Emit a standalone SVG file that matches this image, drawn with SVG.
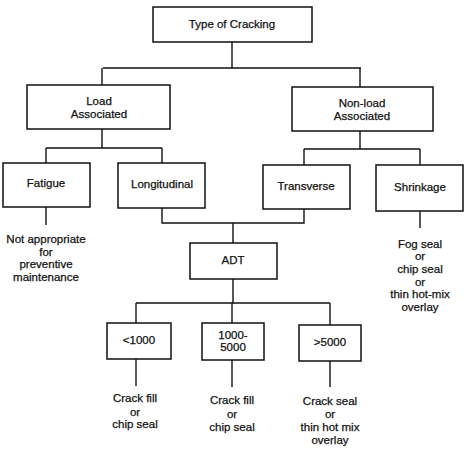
<svg xmlns="http://www.w3.org/2000/svg" width="467" height="453" viewBox="0 0 467 453">
<style>
rect{fill:#fff;stroke:#111;stroke-width:1.5}
.c{fill:none;stroke:#111;stroke-width:1.4}
text{font-family:"Liberation Sans",Arial,sans-serif;font-size:11.5px;fill:#111;stroke:#111;stroke-width:0.25;text-anchor:middle;dominant-baseline:central}
</style>
<rect x="0" y="0" width="467" height="453" style="stroke:none"/>
<g id="connectors">
<path class="c" d="M232 42V68M103 68H361M102 68V85M360 68V87"/>
<path class="c" d="M102 129V148M46 148H162M46 148V163M162 148V163"/>
<path class="c" d="M360 131V149M304 149H420M304 149V165M420 149V165"/>
<path class="c" d="M46 207V225"/>
<path class="c" d="M420 211V228"/>
<path class="c" d="M162 208V223H304V209M233 223V243"/>
<path class="c" d="M233 279V303M136 303H330M136 303V323M232 303V323M330 303V325"/>
<path class="c" d="M136 359V386M232 360V387M330 361V387"/>
</g>
<g id="type"><rect x="153" y="7" width="159" height="35"/><text x="232" y="24">Type of Cracking</text></g>
<g id="load"><rect x="27" y="85" width="143" height="44"/><text x="99" y="101">Load</text><text x="99" y="114">Associated</text></g>
<g id="nonload"><rect x="292" y="87" width="141" height="44"/><text x="362" y="103">Non-load</text><text x="362" y="116">Associated</text></g>
<g id="fatigue"><rect x="3" y="163" width="87" height="44"/><text x="46" y="183">Fatigue</text></g>
<g id="longitudinal"><rect x="118" y="163" width="87" height="45"/><text x="162" y="184">Longitudinal</text></g>
<g id="transverse"><rect x="263" y="165" width="87" height="44"/><text x="306" y="186">Transverse</text></g>
<g id="shrinkage"><rect x="376" y="165" width="87" height="46"/><text x="420" y="187">Shrinkage</text></g>
<g id="fatigue-note"><text x="46" y="239">Not appropriate</text><text x="46" y="252">for</text><text x="46" y="264">preventive</text><text x="46" y="277">maintenance</text></g>
<g id="shrinkage-note"><text x="420" y="244">Fog seal</text><text x="420" y="256">or</text><text x="420" y="269">chip seal</text><text x="420" y="282">or</text><text x="420" y="294">thin hot-mix</text><text x="420" y="307">overlay</text></g>
<g id="adt"><rect x="190" y="243" width="87" height="36"/><text x="233" y="260">ADT</text></g>
<g id="lt1000"><rect x="107" y="323" width="64" height="36"/><text x="139" y="340">&lt;1000</text></g>
<g id="mid"><rect x="202" y="323" width="62" height="37"/><text x="233" y="335">1000-</text><text x="233" y="347">5000</text></g>
<g id="gt5000"><rect x="299" y="325" width="62" height="36"/><text x="330" y="342">&gt;5000</text></g>
<g id="note1"><text x="135" y="398">Crack fill</text><text x="135" y="412">or</text><text x="135" y="424">chip seal</text></g>
<g id="note2"><text x="232" y="400">Crack fill</text><text x="232" y="414">or</text><text x="232" y="427">chip seal</text></g>
<g id="note3"><text x="330" y="401">Crack seal</text><text x="330" y="414">or</text><text x="330" y="427">thin hot mix</text><text x="330" y="440">overlay</text></g>
</svg>
